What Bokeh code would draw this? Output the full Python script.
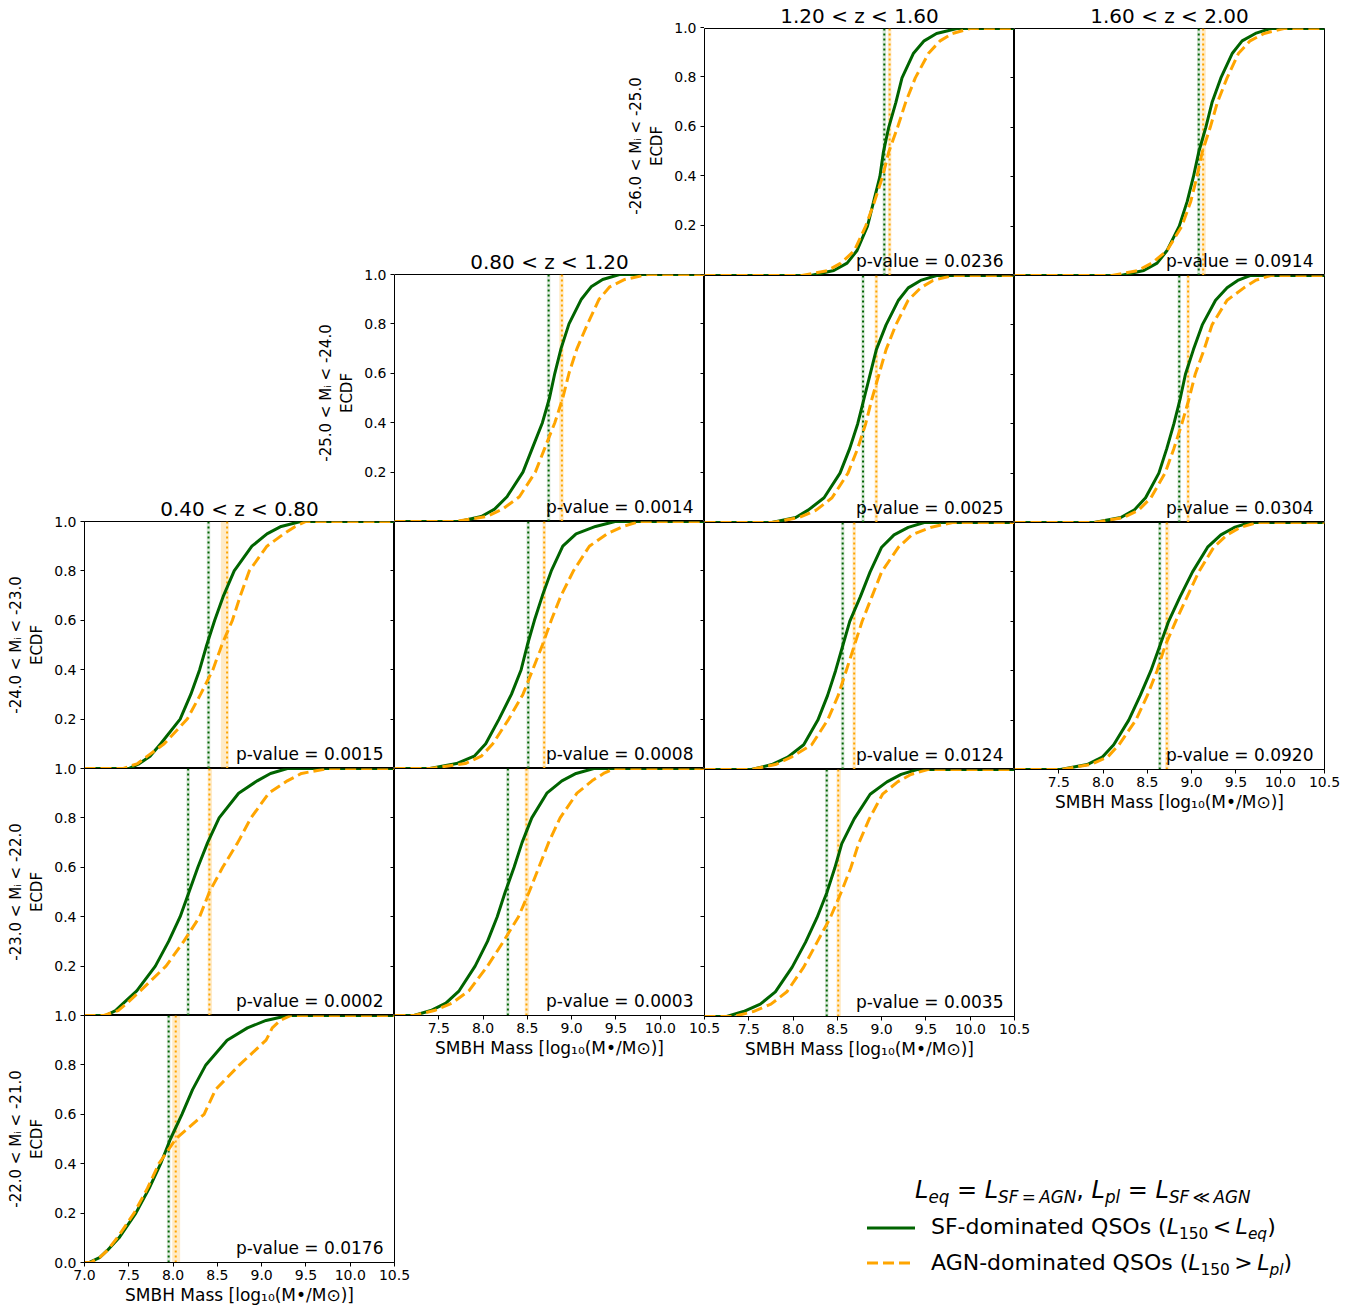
from bokeh.embed import file_html
from bokeh.layouts import column, row
from bokeh.models import (BoxAnnotation, Div, FixedTicker, Label, LinearAxis,
                          PrintfTickFormatter, Range1d, Span)
from bokeh.plotting import figure
from bokeh.resources import INLINE

FONT = "DejaVu Sans"
GREEN = "#006400"
ORANGE = "#FFA500"

# ECDF levels at which the mass (x) of each curve was read
ECDF_LEVELS = [0.0, 0.02, 0.05, 0.1, 0.2, 0.3, 0.4, 0.5, 0.6, 0.7, 0.8, 0.9, 0.95, 0.98, 1.0]
X_TICKS = [7.0, 7.5, 8.0, 8.5, 9.0, 9.5, 10.0, 10.5]
Y_TICKS = [0.0, 0.2, 0.4, 0.6, 0.8, 1.0]
Z_BINS = ["0.40 < z < 0.80", "0.80 < z < 1.20", "1.20 < z < 1.60", "1.60 < z < 2.00"]
MI_BINS = ["-26.0 < Mᵢ < -25.0", "-25.0 < Mᵢ < -24.0", "-24.0 < Mᵢ < -23.0",
           "-23.0 < Mᵢ < -22.0", "-22.0 < Mᵢ < -21.0"]
X_LABEL = "SMBH Mass [log₁₀(M•/M⊙)]"

# keys: (Mi-bin row, z-bin column)
SF_X = {
    (0, 2): [8.20, 8.46, 8.61, 8.72, 8.84, 8.91, 8.98, 9.02, 9.08, 9.16, 9.23, 9.36, 9.48, 9.62, 9.85],
    (0, 3): [8.20, 8.46, 8.61, 8.72, 8.86, 8.95, 9.02, 9.08, 9.16, 9.23, 9.33, 9.46, 9.57, 9.72, 9.89],
    (1, 1): [7.73, 7.98, 8.13, 8.27, 8.45, 8.56, 8.67, 8.75, 8.81, 8.88, 8.97, 9.11, 9.22, 9.35, 9.54],
    (1, 2): [7.76, 8.03, 8.17, 8.35, 8.53, 8.64, 8.73, 8.80, 8.87, 8.94, 9.05, 9.19, 9.30, 9.44, 9.62],
    (1, 3): [7.90, 8.20, 8.35, 8.48, 8.63, 8.72, 8.80, 8.87, 8.93, 9.02, 9.12, 9.27, 9.40, 9.52, 9.66],
    (2, 0): [7.50, 7.62, 7.74, 7.86, 8.08, 8.20, 8.30, 8.38, 8.47, 8.57, 8.69, 8.89, 9.06, 9.22, 9.44],
    (2, 1): [7.40, 7.70, 7.90, 8.03, 8.18, 8.32, 8.43, 8.50, 8.58, 8.67, 8.77, 8.90, 9.05, 9.27, 9.49],
    (2, 2): [7.53, 7.76, 7.94, 8.12, 8.28, 8.39, 8.48, 8.56, 8.64, 8.76, 8.87, 9.00, 9.14, 9.30, 9.48],
    (2, 3): [7.52, 7.82, 7.99, 8.12, 8.29, 8.42, 8.54, 8.64, 8.74, 8.87, 9.01, 9.18, 9.33, 9.48, 9.66],
    (3, 0): [7.24, 7.35, 7.44, 7.59, 7.80, 7.95, 8.08, 8.18, 8.28, 8.39, 8.52, 8.74, 8.95, 9.10, 9.29],
    (3, 1): [7.22, 7.41, 7.58, 7.73, 7.91, 8.05, 8.16, 8.25, 8.35, 8.44, 8.55, 8.72, 8.89, 9.05, 9.25],
    (3, 2): [7.25, 7.44, 7.63, 7.80, 7.99, 8.14, 8.27, 8.38, 8.47, 8.55, 8.69, 8.87, 9.06, 9.22, 9.40],
    (4, 0): [7.05, 7.17, 7.26, 7.39, 7.58, 7.73, 7.86, 7.97, 8.10, 8.22, 8.37, 8.61, 8.84, 9.05, 9.30],
}
AGN_X = {
    (0, 2): [8.10, 8.39, 8.54, 8.69, 8.82, 8.92, 9.01, 9.08, 9.18, 9.27, 9.38, 9.53, 9.66, 9.80, 10.00],
    (0, 3): [8.10, 8.39, 8.55, 8.72, 8.89, 8.99, 9.06, 9.12, 9.21, 9.29, 9.40, 9.53, 9.66, 9.82, 10.04],
    (1, 1): [7.68, 8.04, 8.22, 8.41, 8.59, 8.70, 8.81, 8.90, 8.97, 9.06, 9.18, 9.31, 9.43, 9.60, 9.86],
    (1, 2): [7.76, 8.07, 8.26, 8.44, 8.62, 8.73, 8.82, 8.89, 8.97, 9.05, 9.16, 9.30, 9.44, 9.58, 9.80],
    (1, 3): [7.90, 8.23, 8.40, 8.54, 8.70, 8.80, 8.89, 8.97, 9.04, 9.14, 9.23, 9.40, 9.59, 9.72, 9.89],
    (2, 0): [7.44, 7.60, 7.71, 7.90, 8.16, 8.31, 8.45, 8.55, 8.67, 8.76, 8.86, 9.06, 9.25, 9.38, 9.50],
    (2, 1): [7.40, 7.80, 7.98, 8.11, 8.29, 8.45, 8.56, 8.67, 8.77, 8.88, 9.02, 9.20, 9.40, 9.58, 9.77],
    (2, 2): [7.53, 7.80, 7.98, 8.21, 8.39, 8.51, 8.60, 8.69, 8.78, 8.89, 9.00, 9.19, 9.34, 9.55, 9.80],
    (2, 3): [7.52, 7.86, 8.05, 8.18, 8.37, 8.50, 8.61, 8.70, 8.82, 8.95, 9.08, 9.25, 9.40, 9.55, 9.74],
    (3, 0): [7.22, 7.38, 7.48, 7.63, 7.92, 8.12, 8.30, 8.41, 8.56, 8.73, 8.88, 9.08, 9.29, 9.45, 9.75],
    (3, 1): [7.22, 7.45, 7.65, 7.84, 8.05, 8.23, 8.40, 8.52, 8.63, 8.74, 8.87, 9.06, 9.23, 9.36, 9.48],
    (3, 2): [7.33, 7.55, 7.75, 7.93, 8.12, 8.27, 8.42, 8.54, 8.65, 8.74, 8.86, 9.01, 9.18, 9.33, 9.52],
    (4, 0): [7.07, 7.17, 7.26, 7.37, 7.56, 7.71, 7.84, 8.03, 8.35, 8.48, 8.75, 9.05, 9.12, 9.21, 9.33],
}
SF_MEDIAN = {(0, 2): 9.03, (0, 3): 9.08, (1, 1): 8.74, (1, 2): 8.79, (1, 3): 8.86,
             (2, 0): 8.40, (2, 1): 8.51, (2, 2): 8.56, (2, 3): 8.64,
             (3, 0): 8.17, (3, 1): 8.28, (3, 2): 8.38, (4, 0): 7.95}
AGN_MEDIAN = {(0, 2): 9.09, (0, 3): 9.13, (1, 1): 8.89, (1, 2): 8.94, (1, 3): 8.96,
              (2, 0): 8.61, (2, 1): 8.69, (2, 2): 8.69, (2, 3): 8.72,
              (3, 0): 8.41, (3, 1): 8.49, (3, 2): 8.51, (4, 0): 8.03}
SF_MEDIAN_RANGE = {(0, 2): (9.01, 9.05), (0, 3): (9.06, 9.10), (1, 1): (8.72, 8.76),
                   (1, 2): (8.77, 8.81), (1, 3): (8.84, 8.88), (2, 0): (8.38, 8.42),
                   (2, 1): (8.49, 8.53), (2, 2): (8.54, 8.58), (2, 3): (8.62, 8.66),
                   (3, 0): (8.15, 8.19), (3, 1): (8.26, 8.30), (3, 2): (8.36, 8.40),
                   (4, 0): (7.93, 7.97)}
AGN_MEDIAN_RANGE = {(0, 2): (9.07, 9.11), (0, 3): (9.11, 9.16), (1, 1): (8.86, 8.91),
                    (1, 2): (8.92, 8.96), (1, 3): (8.94, 8.98), (2, 0): (8.54, 8.63),
                    (2, 1): (8.67, 8.71), (2, 2): (8.67, 8.71), (2, 3): (8.70, 8.75),
                    (3, 0): (8.39, 8.44), (3, 1): (8.47, 8.52), (3, 2): (8.49, 8.54),
                    (4, 0): (7.99, 8.08)}
P_VALUES = {(0, 2): 0.0236, (0, 3): 0.0914, (1, 1): 0.0014, (1, 2): 0.0025, (1, 3): 0.0304,
            (2, 0): 0.0015, (2, 1): 0.0008, (2, 2): 0.0124, (2, 3): 0.0920,
            (3, 0): 0.0002, (3, 1): 0.0003, (3, 2): 0.0035, (4, 0): 0.0176}

FRAME_W, FRAME_H = 310, 247
LEFT_PAD = 84      # room for the y labels of the first column
TOP_PAD = 27       # room for the titles of the first row
X_AXIS_PAD = 50    # room for the x labels under the last panel of a column
LABEL_PAD = 10     # room above a frame so that its top tick label is not clipped
RIGHT_PAD = 22     # room right of a frame so that its last x tick label is not clipped
TICK_FONT = "14px"

keys = sorted(SF_X.keys())
TOP_ROW = {c: min(r for (r, cc) in keys if cc == c) for c in range(4)}
BOTTOM_ROW = {c: max(r for (r, cc) in keys if cc == c) for c in range(4)}
LEFT_COL = {r: min(c for (rr, c) in keys if rr == r) for r in range(5)}


def new_fig(bl, br, bt, bb, frame_h=FRAME_H, y_end=1.0):
    return figure(frame_width=FRAME_W, frame_height=frame_h,
                  x_range=Range1d(7.0, 10.5), y_range=Range1d(0.0, y_end),
                  output_backend="svg", toolbar_location=None,
                  min_border_left=bl, min_border_right=br,
                  min_border_top=bt, min_border_bottom=bb,
                  border_fill_color=None)


def style_axis(ax, ticks, show_labels):
    ax.ticker = FixedTicker(ticks=ticks)
    ax.formatter = PrintfTickFormatter(format="%.1f")
    ax.major_tick_out = 4
    ax.major_tick_in = 0
    ax.minor_tick_line_color = None
    ax.axis_line_color = "black"
    ax.major_tick_line_color = "black"
    ax.major_label_text_font = FONT
    ax.major_label_text_font_size = TICK_FONT
    ax.major_label_standoff = 4
    ax.major_label_text_color = "black" if show_labels else None


def style_axis_label(ax, text, size):
    ax.axis_label = text
    ax.axis_label_text_font = FONT
    ax.axis_label_text_font_size = size
    ax.axis_label_text_font_style = "normal"
    ax.axis_label_text_color = "black"


def make_panel(r, c):
    key = (r, c)
    has_x = r == BOTTOM_ROW[c]
    bl = LEFT_PAD if c == 0 else 0
    if r == 0:
        bt = TOP_PAD
    elif c == 0:
        bt = LABEL_PAD
    else:
        bt = 0
    bb = X_AXIS_PAD if has_x else 0
    br = RIGHT_PAD if has_x else (1 if c == 3 else 0)
    p = new_fig(bl, br, bt, bb)
    # the label room above the frame overlaps the transparent cell above
    p.margin = (-LABEL_PAD if (c == 0 and r > 0) else 0, 0, 0, 0)
    p.background_fill_color = "white"
    p.outline_line_color = "black"
    p.outline_line_width = 1
    p.xgrid.visible = False
    p.ygrid.visible = False

    if r == 0:
        p.title.text = Z_BINS[c]
        p.title.text_font = FONT
        p.title.text_font_size = "20px"
        p.title.text_font_style = "normal"
        p.title.text_color = "black"
        p.title.align = "center"
        p.title.standoff = 2

    ya = p.yaxis[0]
    if c == 0:
        style_axis(ya, Y_TICKS if r == 4 else Y_TICKS[1:], True)
        style_axis_label(ya, MI_BINS[r] + "\nECDF", "15px")
        ya.axis_label_standoff = 5
    else:
        ya.visible = False

    # ticks of the neighbouring panel's left spine, pointing into this panel
    if (r, c + 1) in SF_X:
        tick_axis = LinearAxis(fixed_location=p.x_range.end)
        style_axis(tick_axis, Y_TICKS[1:], False)
        tick_axis.axis_line_color = None
        p.add_layout(tick_axis, "left")

    xa = p.xaxis[0]
    if has_x:
        style_axis(xa, X_TICKS if c == 0 else X_TICKS[1:], True)
        xa.major_label_standoff = 3
        style_axis_label(xa, X_LABEL, "17px")
        xa.axis_label_standoff = 2
    else:
        xa.visible = False

    lo, hi = SF_MEDIAN_RANGE[key]
    p.add_layout(BoxAnnotation(left=lo, right=hi, fill_color=GREEN, fill_alpha=0.15,
                               line_color=None, level="underlay"))
    lo, hi = AGN_MEDIAN_RANGE[key]
    p.add_layout(BoxAnnotation(left=lo, right=hi, fill_color=ORANGE, fill_alpha=0.22,
                               line_color=None, level="underlay"))
    p.add_layout(Span(location=SF_MEDIAN[key], dimension="height", line_color=GREEN,
                      line_dash="2 3", line_width=2, level="underlay"))
    p.add_layout(Span(location=AGN_MEDIAN[key], dimension="height", line_color=ORANGE,
                      line_dash="2 3", line_width=2, level="underlay"))

    ys = [0.0] + ECDF_LEVELS + [1.0]
    xs_sf = [p.x_range.start] + SF_X[key] + [p.x_range.end]
    xs_agn = [p.x_range.start] + AGN_X[key] + [p.x_range.end]
    p.line(xs_sf, ys, line_color=GREEN, line_width=3, line_join="round")
    p.line(xs_agn, ys, line_color=ORANGE, line_width=3, line_dash="11 5")

    p.add_layout(Label(x=p.x_range.end, y=p.y_range.start, x_offset=-11, y_offset=5,
                       text=f"p-value = {P_VALUES[key]:.4f}", text_align="right",
                       text_baseline="bottom", text_font=FONT, text_font_size="17px",
                       text_color="black"))
    return p


def make_empty_slot(r, c):
    """Empty grid cell that carries the y axis of the panel to its right and
    the title of the panel below it.  Its frame reaches LABEL_PAD pixels higher
    than a panel frame so that the top tick label is not clipped."""
    bl = LEFT_PAD if c == 0 else 0
    p = new_fig(bl, 0, TOP_PAD + r * FRAME_H - LABEL_PAD, 0,
                frame_h=FRAME_H + LABEL_PAD, y_end=1.0 + LABEL_PAD / FRAME_H)
    p.background_fill_color = None
    p.outline_line_color = None
    p.xgrid.visible = False
    p.ygrid.visible = False
    p.xaxis.visible = False
    ya = p.yaxis[0]
    if LEFT_COL[r] == c + 1:
        ya.fixed_location = p.x_range.end
        style_axis(ya, Y_TICKS[1:], True)
        style_axis_label(ya, MI_BINS[r] + "\nECDF", "15px")
        ya.axis_label_standoff = 5
    else:
        ya.visible = False
    if TOP_ROW[c] == r + 1:
        p.add_layout(Label(x=(p.x_range.start + p.x_range.end) / 2, y=p.y_range.start,
                           y_offset=1, text=Z_BINS[c], text_align="center",
                           text_baseline="bottom", text_font=FONT,
                           text_font_size="20px", text_color="black"))
    return p


def column_stack(c):
    items = []
    slot_row = TOP_ROW[c] - 1
    if slot_row >= 0:
        items.append(make_empty_slot(slot_row, c))
    for r in range(TOP_ROW[c], BOTTOM_ROW[c] + 1):
        items.append(make_panel(r, c))
    col = column(*items, spacing=0)
    if c < 3:
        # the last x tick label of the bottom panel overlaps the next column
        col.margin = (0, -RIGHT_PAD, 0, 0)
    return col


def sub(html):
    return ('<span style="font-size:0.7em;position:relative;top:0.3em;">'
            + html + '</span>')


L = "<i>L</i>"
LEGEND_TITLE = (f"{L}{sub('<i>eq</i>')} = {L}{sub('<i>SF</i>&thinsp;=&thinsp;<i>AGN</i>')}, "
                f"{L}{sub('<i>pl</i>')} = {L}{sub('<i>SF</i>&thinsp;≪&thinsp;<i>AGN</i>')}")
LEGEND_SF = f"SF-dominated QSOs ({L}{sub('150')}&thinsp;&lt;&thinsp;{L}{sub('<i>eq</i>')})"
LEGEND_AGN = f"AGN-dominated QSOs ({L}{sub('150')}&thinsp;&gt;&thinsp;{L}{sub('<i>pl</i>')})"

legend_html = f"""
<div style="position:relative;width:620px;height:247px;font-family:'DejaVu Sans';color:#000;">
  <div style="position:absolute;left:211px;top:112px;font-size:24px;line-height:24px;white-space:nowrap;">{LEGEND_TITLE}</div>
  <svg style="position:absolute;left:163px;top:157px;" width="48" height="10">
    <line x1="0" y1="5" x2="48" y2="5" stroke="{GREEN}" stroke-width="3"/>
  </svg>
  <div style="position:absolute;left:227px;top:150px;font-size:22px;line-height:22px;white-space:nowrap;">{LEGEND_SF}</div>
  <svg style="position:absolute;left:163px;top:192px;" width="48" height="10">
    <line x1="0" y1="5" x2="48" y2="5" stroke="{ORANGE}" stroke-width="3" stroke-dasharray="11 5"/>
  </svg>
  <div style="position:absolute;left:227px;top:186px;font-size:22px;line-height:22px;white-space:nowrap;">{LEGEND_AGN}</div>
</div>
"""
legend = Div(text=legend_html, width=620, height=247, margin=0)

layout = row(column_stack(0), column_stack(1),
             column(row(column_stack(2), column_stack(3), spacing=0), legend, spacing=0),
             spacing=0)

open("out.html", "w").write(file_html(layout, INLINE, title="ECDF SMBH mass"))
